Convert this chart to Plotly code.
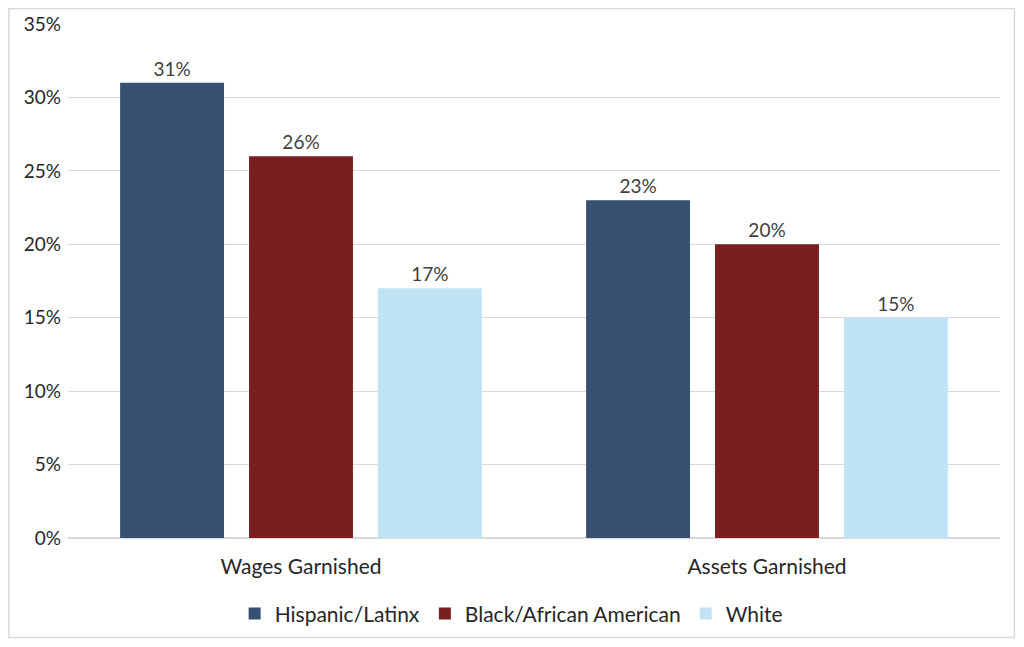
import plotly.graph_objects as go

categories = ['Wages Garnished', 'Assets Garnished']
series_names = ['Hispanic/Latinx', 'Black/African American', 'White']
hispanic = [0.31, 0.23]
black = [0.26, 0.20]
white = [0.17, 0.15]
colors = ['#374F70', '#7A1F20', '#C0E4F4']

fig = go.Figure()
for name, vals, col in zip(series_names, [hispanic, black, white], colors):
    fig.add_trace(go.Bar(
        x=categories, y=vals, name=name,
        marker=dict(color=col, line=dict(width=0)),
        text=[f'{v:.0%}' for v in vals], textposition='outside',
        textfont=dict(size=19, color='#404040'),
        cliponaxis=False,
    ))

# page body has an 8px margin, so the figure is sized to fit inside it
fig.update_layout(
    width=1008, height=631,
    margin=dict(l=60, r=16, t=16, b=101),
    paper_bgcolor='white', plot_bgcolor='white',
    font=dict(family='Lato, Open Sans, sans-serif', color='#262626'),
    barmode='group', bargap=0.17, bargroupgap=0.194,
    showlegend=True,
    legend=dict(orientation='h', x=0.476, xanchor='center',
                yref='container', y=0.04, yanchor='middle',
                font=dict(size=21, color='#262626'), traceorder='normal'),
    shapes=[dict(type='rect', xref='paper', yref='paper',
                 x0=-0.0634, x1=1.0155, y0=-0.1936, y1=1.030,
                 line=dict(color='#D9D9D9', width=1.5))],
)
fig.update_yaxes(range=[0, 0.35], dtick=0.05, tickformat='.0%', automargin=False,
                 gridcolor='#D9D9D9', gridwidth=1, zeroline=True, zerolinecolor='#D9D9D9',
                 tickfont=dict(size=19, color='#262626'), ticks='', ticklabelstandoff=6)
fig.update_xaxes(tickfont=dict(size=21, color='#262626'), showline=True, linecolor='#D9D9D9',
                 ticklabelstandoff=10, automargin=False)

fig.write_html("out.html")
